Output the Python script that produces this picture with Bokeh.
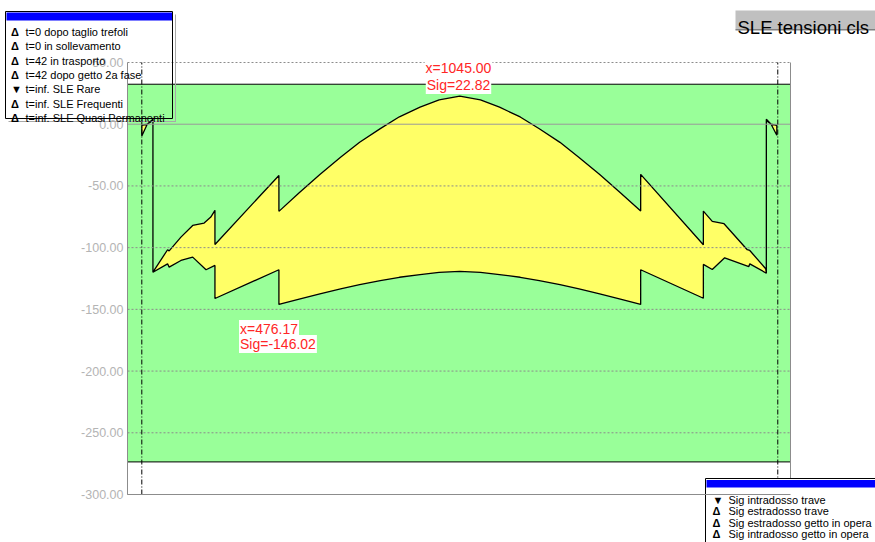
from bokeh.plotting import figure
from bokeh.models import Range1d, Label, BoxAnnotation
from bokeh.core.properties import value
from bokeh.embed import file_html
from bokeh.resources import INLINE

# ---------------- data ----------------
X_START, X_END = 0, 2085
Y_MIN, Y_MAX = -300, 50
y_ticks = [50, 0, -50, -100, -150, -200, -250, -300]
y_tick_labels = [f"{v:.2f}" for v in y_ticks]

supports = [45, 2045]
limit_tension = 32.4
limit_compression = -273.6

# top fibre stress (upper outline of the envelope)
top_x = [45, 62, 80, 80, 126, 131, 168, 205, 241, 262, 275, 275, 476.17, 476.17,
         540, 605, 670, 730, 795, 855, 920, 980, 1045, 1110, 1170, 1235, 1295,
         1360, 1420, 1485, 1550, 1613.83, 1613.83, 1811, 1811, 1839, 1876, 1949,
         1957, 2007, 2009, 2009, 2024, 2042]
top_sig = [-1.0, 0.0, 4.0, -119.9, -101.7, -102.6, -91.5, -82.0, -80.1, -75.2, -69.8,
           -97.4, -41.5, -70.6,
           -55.5, -40.7, -26.8, -14.6, -3.6, 6.0, 13.9, 19.8, 22.82, 19.8, 13.8, 5.9,
           -3.7, -14.7, -27.0, -40.8, -55.6, -70.4, -40.6, -97.7, -70.4, -78.7, -80.6,
           -101.7, -102.3, -117.1, -120.7, 4.0, 0.0, -1.0]

# bottom fibre stress (lower outline of the envelope)
bot_x = [45, 62, 80, 80, 126, 131, 168, 205, 247, 275, 275, 476.17, 476.17,
         540, 605, 670, 730, 795, 855, 920, 980, 1045, 1110, 1170, 1235, 1295,
         1360, 1420, 1485, 1550, 1613.83, 1613.83, 1811, 1811, 1839, 1878, 1954,
         1957, 2009, 2009, 2024, 2042]
bot_sig = [-9.5, 0.0, 3.0, -119.9, -113.1, -115.8, -110.4, -107.7, -117.9, -114.4,
           -141.2, -117.9, -146.02,
           -141.7, -137.4, -133.5, -129.9, -126.8, -124.0, -121.8, -120.1, -119.2,
           -120.1, -121.8, -124.0, -126.8, -129.9, -133.5, -137.4, -141.7, -146.0,
           -117.9, -141.0, -113.6, -117.7, -108.2, -115.3, -113.1, -120.7, 3.0, 0.0,
           -9.0]

peak_x, peak_sig = 1045.00, 22.82
min_x, min_sig = 476.17, -146.02

title_text = "SLE tensioni cls"
phase_labels = ["t=0 dopo taglio trefoli", "t=0 in sollevamento", "t=42 in trasporto",
                "t=42 dopo getto 2a fase", "t=inf. SLE Rare", "t=inf. SLE Frequenti",
                "t=inf. SLE Quasi Permanenti"]
phase_markers = ["Δ", "Δ", "Δ", "Δ", "▼", "Δ", "Δ"]
fibre_labels = ["Sig intradosso trave", "Sig estradosso trave",
                "Sig estradosso getto in opera", "Sig intradosso getto in opera"]
fibre_markers = ["▼", "Δ", "Δ", "Δ"]

# ---------------- layout ----------------
W, H = 875, 542
FL, FR, FT, FB = 127, 790, 62, 494     # pixel box of the plotting area
FONT = "Liberation Sans"
kx = (FR - FL) / (X_END - X_START)
ky = (FB - FT) / (Y_MAX - Y_MIN)
x_range = Range1d(X_START - FL / kx, X_END + (W - FR) / kx)
y_range = Range1d(Y_MIN - (H - FB) / ky, Y_MAX + FT / ky)


def sx(px):
    return px


def sy(py):
    return H - py


p = figure(width=W, height=H, x_range=x_range, y_range=y_range,
           output_backend="svg", toolbar_location=None,
           x_axis_location=None, y_axis_location=None, min_border=0)
p.outline_line_color = None
p.grid.visible = False
p.background_fill_color = "white"
p.border_fill_color = "white"

# admissible band
p.quad(left=X_START, right=X_END, top=limit_tension, bottom=limit_compression,
       fill_color="#99FF99", line_color=None)
p.segment(x0=[X_START, X_START], x1=[X_END, X_END],
          y0=[limit_tension, limit_compression], y1=[limit_tension, limit_compression],
          line_color="black", line_width=1)

# stress envelope
env_x = top_x + bot_x[::-1]
env_y = top_sig + bot_sig[::-1]
p.patch(env_x, env_y, fill_color="#FFFF66", line_color="black", line_width=1.3)

# grid
grid_vals = [v for v in y_ticks if v not in (0, Y_MIN)]
p.segment(x0=[X_START] * len(grid_vals), x1=[X_END] * len(grid_vals),
          y0=grid_vals, y1=grid_vals, line_color="#8C8C8C", line_width=1,
          line_dash="2 2")
p.segment(x0=[X_START], x1=[X_END], y0=[0], y1=[0], line_color="#9A9A9A", line_width=1)

# supports
p.segment(x0=supports, x1=supports, y0=[Y_MIN] * 2, y1=[Y_MAX] * 2,
          line_color="black", line_width=1, line_dash="5 2 1 2")

# axes / frame
p.segment(x0=[X_START, X_START, X_END], x1=[X_START, X_END, X_END],
          y0=[Y_MIN, Y_MIN, Y_MIN], y1=[Y_MAX, Y_MIN, Y_MAX],
          line_color="#8C8C8C", line_width=1)
p.text(x=[X_START] * len(y_ticks), y=y_ticks, text=y_tick_labels, x_offset=-4,
       text_align="right", text_baseline="middle", text_color="#B4B4B4",
       text_font=value(FONT), text_font_size=value("12.5px"))


def box(l, t, r, b, fill=None, line=None, lw=1):
    p.add_layout(BoxAnnotation(left=sx(l), right=sx(r), top=sy(t), bottom=sy(b),
                               left_units="screen", right_units="screen",
                               top_units="screen", bottom_units="screen",
                               fill_color=fill, fill_alpha=1.0 if fill else 0,
                               line_color=line, line_alpha=1.0, line_width=lw))


def text(x, y, s, size="11px", color="black", align="left", bg=None, pad=0,
         style="normal"):
    p.add_layout(Label(x=sx(x), y=sy(y), x_units="screen", y_units="screen",
                       text=s, text_font=FONT, text_font_size=size,
                       text_font_style=style,
                       text_color=color, text_align=align,
                       text_baseline="alphabetic", background_fill_color=bg,
                       padding=pad))


# title
box(735, 10, 876, 29, fill="#C0C0C0")
box(735, 28.5, 876, 30, fill="#808080")
text(737, 27, title_text, size="18.5px")

# top-left legend (transparent body)
box(174.5, 14, 175.5, 121, fill="#A8A8A8")
box(8, 120.5, 175.5, 121.5, fill="#A8A8A8")
box(5, 11, 172, 118, line="black")
box(6, 12, 171.5, 20, fill="#0000FF")
for i, (m, s) in enumerate(zip(phase_markers, phase_labels)):
    yb = 31.5 + i * 14.3
    text(10.5, yb, m, size="11px", style="bold")
    text(25, yb, s)

# bottom-right legend
box(705, 478, 880, 560, fill="white", line="black")
box(706, 479.5, 880, 487, fill="#0000FF")
for i, (m, s) in enumerate(zip(fibre_markers, fibre_labels)):
    yb = 499 + i * 11.6
    text(712, yb, m, size="11px", style="bold")
    text(728, yb, s)
# bottom axis line runs over the legend
p.add_layout(BoxAnnotation(left=X_START, right=X_END, top=sy(493.5), bottom=sy(494.5),
                           top_units="screen", bottom_units="screen",
                           fill_color="#8C8C8C", fill_alpha=1.0, line_color=None))

# value annotations
RED = "#FF2626"
text(458, 67.5, f"x={peak_x:.2f}", size="14px", color=RED, align="center", bg="white", pad=1)
text(458, 84.5, f"Sig={peak_sig:.2f}", size="14px", color=RED, align="center", bg="white", pad=1)
text(238.5, 328.5, f"x={min_x:.2f}", size="14px", color=RED, bg="white", pad=1)
text(238.5, 343.5, f"Sig={min_sig:.2f}", size="14px", color=RED, bg="white", pad=1)

open("out.html", "w").write(file_html(p, INLINE))
